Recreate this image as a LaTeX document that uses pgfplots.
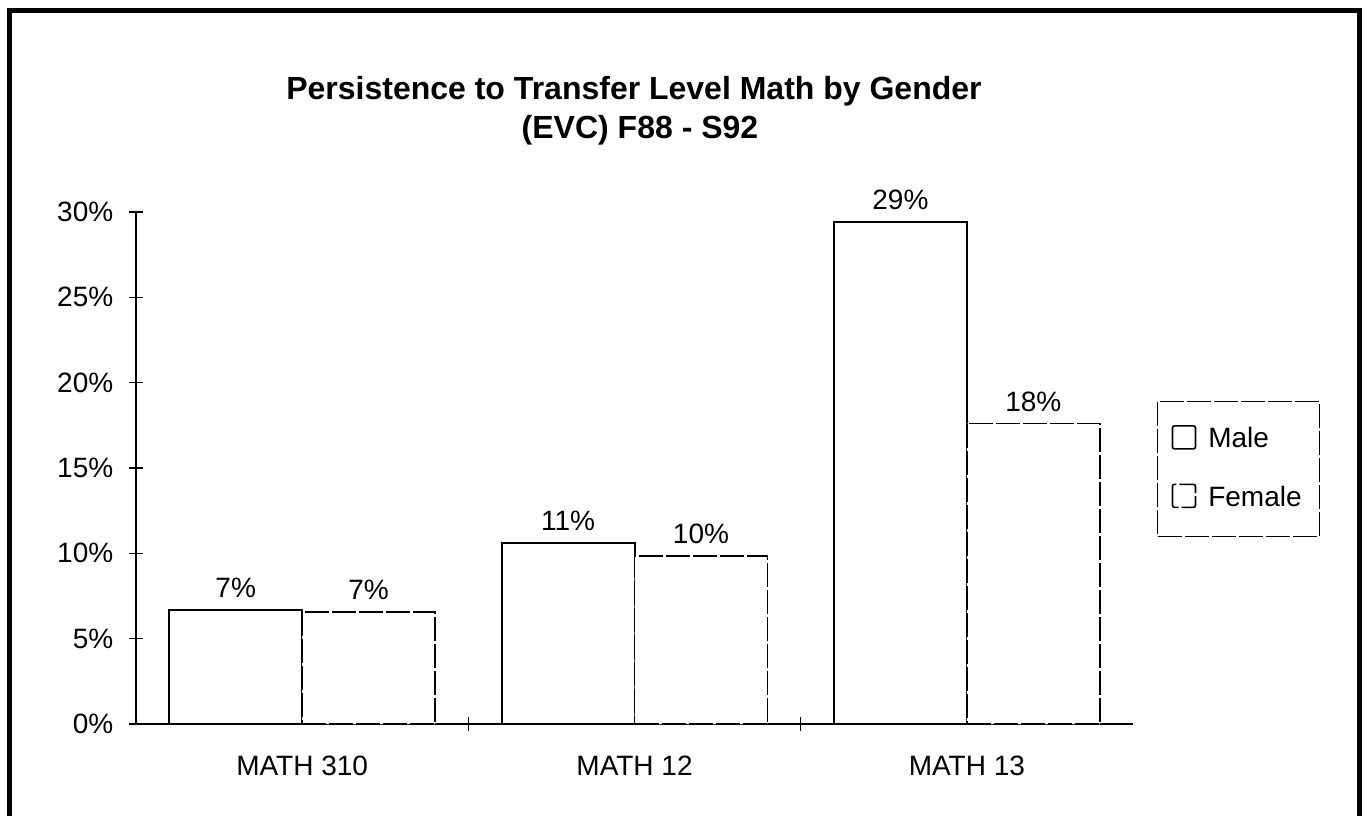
\documentclass[border=0pt]{standalone}
\usepackage{fontspec}
\setmainfont{Liberation Sans}
\usepackage{pgfplots}
\pgfplotsset{compat=1.18}
\pgfkeys{/pgf/number format/assume math mode=true}
\newcommand{\lbl}{\fontsize{14bp}{16.8bp}\selectfont}
\begin{document}
\lbl
\begin{tikzpicture}[x=0.5bp,y=-0.5bp]
\useasboundingbox (0,0) rectangle (1364,816);
\draw[line width=2.5bp] (9,816) -- (9,10) -- (1359,10) -- (1359,816);
\node[font={\bfseries\fontsize{16bp}{19bp}\selectfont}] at (634,91) {Persistence to Transfer Level Math by Gender};
\node[font={\bfseries\fontsize{16bp}{19bp}\selectfont}] at (640,130) {(EVC) F88 - S92};
\coordinate (O) at (136,724);
\begin{axis}[
  at={(O)}, anchor=south west,
  scale only axis, width=498.5bp, height=256bp,
  ybar, bar width=0.4,
  xmin=-0.5, xmax=2.5, ymin=0, ymax=30,
  xtick={0.5,1.5}, xticklabels={},
  extra x ticks={0,1,2},
  extra x tick labels={MATH 310,MATH 12,MATH 13},
  extra x tick style={major tick length=0pt},
  ytick={0,5,10,15,20,25,30},
  yticklabel={\pgfmathprintnumber{\tick}\%},
  axis x line*=bottom, axis y line*=left,
  axis line style={-, line width=0.9bp, black},
  tick align=center, major tick length=7bp,
  tick style={line width=0.8bp, black},
  every tick label/.append style={font=\lbl, black},
  xticklabel style={yshift=-11bp},
  yticklabel style={xshift=-3bp},
  nodes near coords={\pgfmathprintnumber[fixed,precision=0]{\pgfplotspointmeta}\%},
  every node near coord/.append style={font=\lbl, black, yshift=1bp},
  legend style={at={(1.024,0.631)}, anchor=north west, draw=black,
    dash pattern=on 12bp off 1.5bp, line width=0.7bp, font=\lbl,
    inner xsep=7bp, inner ysep=11bp, row sep=13bp,
    /tikz/every odd column/.append style={column sep=4bp}},
  legend cell align=left,
  legend image code/.code={\draw[#1, fill=white, line width=0.8bp, rounded corners=1bp] (0bp,-4.5bp) rectangle (11.5bp,7bp);},
]
\addplot[draw=black, fill=white, line width=1bp, bar shift=-0.2] coordinates {(0,6.67) (1,10.63) (2,29.4)};
\addplot[draw=black, fill=white, line width=0.8bp, dash pattern=on 12bp off 1.5bp, bar shift=0.2] coordinates {(0,6.57) (1,9.84) (2,17.6)};
\legend{Male, Female}
\end{axis}
\end{tikzpicture}
\end{document}
